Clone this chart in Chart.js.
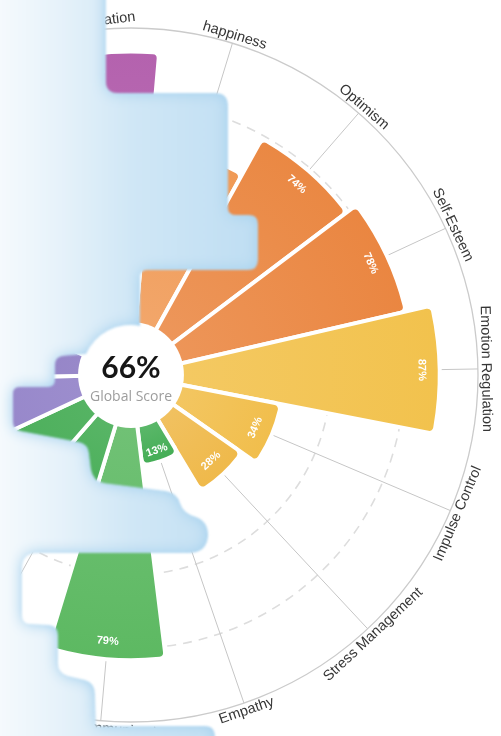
<!DOCTYPE html>
<html>
<head>
<meta charset="utf-8">
<script src="https://cdn.jsdelivr.net/npm/chart.js@4.4.0/dist/chart.umd.min.js"></script>
<style>
html,body{margin:0;padding:0;width:501px;height:736px;overflow:hidden;background:#ffffff;}
#wrap{position:absolute;left:-256px;top:-12px;width:774px;height:774px;}
#ov{position:absolute;left:-100px;top:-100px;pointer-events:none;}
</style>
</head>
<body>
<div id="wrap"><canvas id="c" width="774" height="774"></canvas></div>
<svg id="ov" width="701" height="936" viewBox="-100 -100 701 936">
<defs>
<linearGradient id="fog" gradientUnits="userSpaceOnUse" x1="0" y1="0" x2="240" y2="0">
 <stop offset="0" stop-color="#f5fafd"/>
 <stop offset="0.25" stop-color="#e6f2fa"/>
 <stop offset="0.55" stop-color="#d0e7f6"/>
 <stop offset="1" stop-color="#c1dff3"/>
</linearGradient>
<filter id="glow" x="-20%" y="-20%" width="140%" height="140%" color-interpolation-filters="sRGB">
 <feGaussianBlur in="SourceAlpha" stdDeviation="7" result="b"/>
 <feComponentTransfer in="b" result="edge"><feFuncA type="linear" slope="-1.3" intercept="1.3"/></feComponentTransfer>
 <feFlood flood-color="#a6d1ee" flood-opacity="0.9" result="fl"/>
 <feComposite in="fl" in2="edge" operator="in" result="ec"/>
 <feMerge result="m"><feMergeNode in="SourceGraphic"/><feMergeNode in="ec"/></feMerge>
 <feComposite in="m" in2="SourceAlpha" operator="in" result="cl"/>
 <feGaussianBlur in="cl" stdDeviation="1.1"/>
</filter>
</defs>
<path fill="url(#fog)" filter="url(#glow)" d="M -90 -90 L 106 -90 L 106 81 Q 106 93 118 93 L 215 93 Q 228 93 228 106 L 228 207 Q 228 215 236 215 L 249 215 Q 258 215 258 224 L 258 260 Q 258 270 248 270 L 148 270 Q 140 270 140 278 L 140 326 A 49 49 0 0 0 86 354 L 63 356 Q 55 357 55 365 L 55 380 Q 55 387 48 387 L 20 387 Q 13 387 13 394 L 13 421 Q 13 429 21 431 L 79 442 Q 88 444 89 453 L 91 469 Q 93 481 104 483 L 166 491 Q 177 493 180 503 Q 183 513 196 517 Q 209 522 208 537 Q 206 553 189 553 L 38 553 Q 22 553 22 568 L 22 615 Q 22 624 31 624 L 49 625 Q 58 626 58 635 L 58 663 Q 58 673 68 676 L 85 680 Q 95 683 95 694 L 96 726 L 205 726 Q 215 726 215 737 L 215 900 L -90 900 Z"/>
</svg>
<script>
// ---- data ----
const categories = ['happiness', 'Optimism', 'Self-Esteem', 'Emotion Regulation', 'Impulse Control',
  'Stress Management', 'Empathy', 'Social Communication', 'Relationships', 'Assertiveness',
  'Self-Awareness', 'Self-Confidence', 'Independence', 'Self-Regard', 'Self-Motivation'];
const scores = [60, 74, 78, 87, 34, 28, 13, 79, 45, 80, 85, 75, 82, 78, 92];
const barColors = ['#F09A56', '#EA8843', '#EA8641', '#F2C24D', '#F1BE4C', '#EFB94A', '#44AD55', '#5DB962',
  '#41AB51', '#3EA94E', '#8E7DC6', '#8A78C2', '#9C72C0', '#A86BB9', '#B462AE'];
const globalScore = '66%';
const globalLabel = 'Global Score';
const scaleMin = -18;
const scaleMax = 100;

function mix(hex, w, t) {
  const a = parseInt(hex.slice(1), 16), b = parseInt(w.slice(1), 16);
  const r = Math.round(((a >> 16) & 255) * (1 - t) + ((b >> 16) & 255) * t);
  const g = Math.round(((a >> 8) & 255) * (1 - t) + ((b >> 8) & 255) * t);
  const bl = Math.round((a & 255) * (1 - t) + (b & 255) * t);
  return 'rgb(' + r + ',' + g + ',' + bl + ')';
}

function norm(a) { return Math.atan2(Math.sin(a), Math.cos(a)); }
function readableRot(a) {
  let rot = norm(a + Math.PI / 2);
  if (rot > Math.PI / 2) rot -= Math.PI;
  if (rot < -Math.PI / 2) rot += Math.PI;
  return rot;
}

const spokePlugin = {
  id: 'spokes',
  beforeDatasetsDraw(chart) {
    const s = chart.scales.r, ctx = chart.ctx;
    const R = s.getDistanceFromCenterForValue(scaleMax);
    const half = Math.PI / categories.length;
    ctx.save();
    ctx.strokeStyle = '#c6c6c6';
    ctx.lineWidth = 1;
    for (let i = 0; i < categories.length; i++) {
      const p = s.getPointPosition(i, R, half);
      ctx.beginPath();
      ctx.moveTo(s.xCenter, s.yCenter);
      ctx.lineTo(p.x, p.y);
      ctx.stroke();
    }
    ctx.restore();
  }
};

const textPlugin = {
  id: 'texts',
  afterDatasetsDraw(chart) {
    const s = chart.scales.r, ctx = chart.ctx;
    const cx = s.xCenter, cy = s.yCenter;
    const r0 = s.getDistanceFromCenterForValue(0);
    const R = s.getDistanceFromCenterForValue(scaleMax);
    const half = Math.PI / categories.length;
    ctx.save();
    // centre disc
    ctx.fillStyle = '#ffffff';
    ctx.beginPath();
    ctx.arc(cx, cy, r0, 0, Math.PI * 2);
    ctx.fill();
    ctx.textAlign = 'center';
    ctx.textBaseline = 'alphabetic';
    ctx.fillStyle = '#161616';
    ctx.font = 'bold 30px Lato, "Open Sans", sans-serif';
    ctx.fillText(globalScore, cx, cy + 3);
    ctx.fillStyle = '#9d9d9d';
    ctx.font = '14px "Open Sans", sans-serif';
    ctx.fillText(globalLabel, cx, cy + 26);

    // value labels on bars
    ctx.textBaseline = 'middle';
    ctx.font = 'bold 11px "Liberation Sans", Arial, sans-serif';
    ctx.fillStyle = '#ffffff';
    for (let i = 0; i < scores.length; i++) {
      const a = norm(s.getIndexAngle(i) - Math.PI / 2 + half);
      const rEnd = s.getDistanceFromCenterForValue(scores[i]);
      const rl = rEnd - Math.min(18, (rEnd - r0) * 0.3);
      ctx.save();
      ctx.translate(cx + Math.cos(a) * rl, cy + Math.sin(a) * rl);
      ctx.rotate(readableRot(a));
      ctx.fillText(scores[i] + '%', 0, 0);
      ctx.restore();
    }

    // category labels around the outer ring
    ctx.font = '14.5px "Liberation Sans", Arial, sans-serif';
    ctx.fillStyle = '#363636';
    for (let i = 0; i < categories.length; i++) {
      const a = norm(s.getIndexAngle(i) - Math.PI / 2 + half);
      const rl = R + 8;
      ctx.save();
      ctx.translate(cx + Math.cos(a) * rl, cy + Math.sin(a) * rl);
      ctx.rotate(readableRot(a));
      ctx.fillText(categories[i], 0, 0);
      ctx.restore();
    }
    ctx.restore();
  }
};

new Chart(document.getElementById('c'), {
  type: 'polarArea',
  data: {
    labels: categories,
    datasets: [{
      data: scores,
      backgroundColor: (c) => {
        const chart = c.chart, s = chart.scales && chart.scales.r;
        const i = c.dataIndex;
        if (!s || c.type !== 'data' || !isFinite(s.xCenter)) return barColors[i];
        const r0 = s.getDistanceFromCenterForValue(0);
        const r1 = Math.max(s.getDistanceFromCenterForValue(scores[i]), r0 + 1);
        const g = chart.ctx.createRadialGradient(s.xCenter, s.yCenter, r0, s.xCenter, s.yCenter, r1);
        g.addColorStop(0, mix(barColors[i], '#ffffff', 0.12));
        g.addColorStop(1, barColors[i]);
        return g;
      },
      borderColor: '#ffffff',
      borderWidth: 4,
      borderRadius: { outerStart: 6, outerEnd: 6, innerStart: 0, innerEnd: 0 }
    }]
  },
  options: {
    responsive: false,
    animation: false,
    devicePixelRatio: 1,
    layout: { padding: 40 },
    plugins: { legend: { display: false }, tooltip: { enabled: false } },
    scales: {
      r: {
        min: scaleMin,
        max: scaleMax,
        startAngle: 5,
        ticks: { display: false, stepSize: 25 },
        grid: {
          circular: true,
          color: (c) => {
            const v = c.tick ? c.tick.value : null;
            if (v === 100) return '#cbcbcb';
            if (v === 50 || v === 75) return '#dddddd';
            return 'rgba(0,0,0,0)';
          },
          lineWidth: (c) => (c.tick && c.tick.value === 100 ? 1.3 : 1.6)
        },
        border: { dash: (c) => (c.tick && c.tick.value === 100 ? [] : [9, 7]) },
        angleLines: { display: false },
        pointLabels: { display: false }
      }
    }
  },
  plugins: [spokePlugin, textPlugin]
});
</script>
</body>
</html>
